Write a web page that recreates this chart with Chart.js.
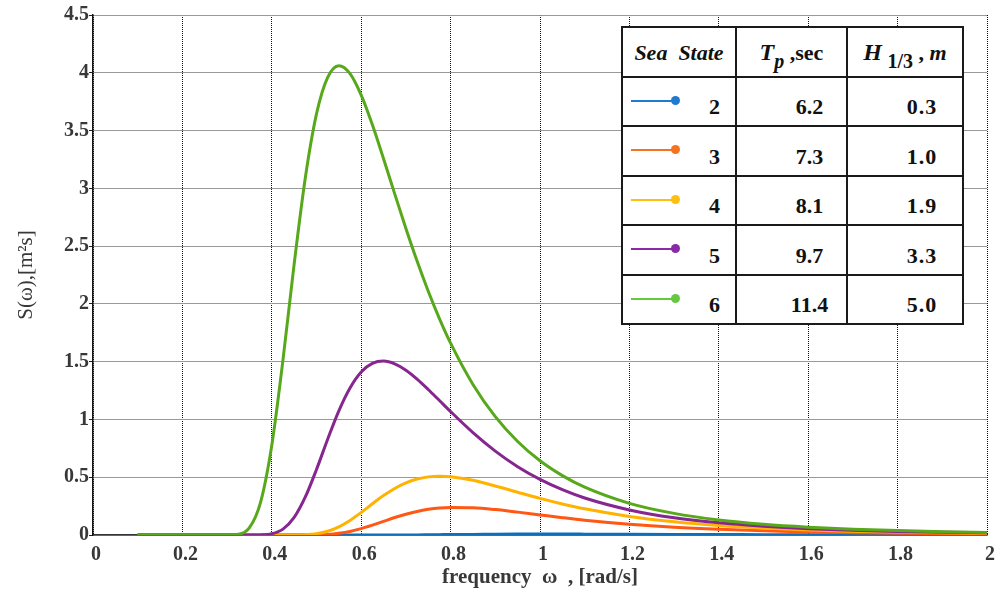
<!DOCTYPE html>
<html>
<head>
<meta charset="utf-8">
<script src="https://cdn.jsdelivr.net/npm/chart.js@4.4.1/dist/chart.umd.min.js"></script>
<style>
  html, body { margin: 0; padding: 0; background: #fff; }
  #wrap { position: relative; width: 1000px; height: 601px; }
  #states {
    position: absolute; left: 621px; top: 26px;
    width: 341px;
    border-collapse: collapse; table-layout: fixed; background: #fff;
    font-family: "Liberation Serif", "Times New Roman", serif;
    font-weight: bold; font-size: 22px; color: #111;
  }
  #states td, #states th { border: 2px solid #1a1a1a; padding: 0; position: relative; }
  #states th { font-weight: bold; height: 45.5px; padding-top: 2px; }
  #states td { height: 35.5px; padding-top: 12px; }
  #states .st { text-align: right; padding-right: 15px; }
  #states .tp { text-align: center; padding-left: 36px; }
  #states .hs { text-align: center; padding-left: 34px; letter-spacing: 1px; }
  #states .key { position: absolute; left: 8px; top: 22px; width: 44px; height: 2px; }
  #states .dot { position: absolute; left: 48px; top: 18px; width: 9px; height: 9px; border-radius: 50%; }
  #states sub { font-size: 20px; vertical-align: -8px; line-height: 0; }
</style>
</head>
<body>
<div id="wrap">
  <canvas id="spectrum" width="1000" height="601"></canvas>
  <table id="states">
    <colgroup><col style="width:114px"><col style="width:111px"><col style="width:116px"></colgroup>
    <thead>
      <tr>
        <th><i style="white-space:pre">Sea  State</i></th>
        <th><i style="font-size:24px">T</i><sub><i>p</i></sub> ,sec</th>
        <th><i style="font-size:24px">H</i> <sub>1/3</sub> , <i>m</i></th>
      </tr>
    </thead>
    <tbody id="state-rows"></tbody>
  </table>
</div>
<script>
// frequency grid, rad/s
const omega = [0.1, 0.15, 0.2, 0.25, 0.3, 0.325, 0.35, 0.375, 0.4, 0.425,
  0.45, 0.475, 0.5, 0.525, 0.55, 0.575, 0.6, 0.625, 0.65, 0.675,
  0.7, 0.725, 0.75, 0.775, 0.8, 0.85, 0.9, 0.95, 1.0, 1.05,
  1.1, 1.2, 1.3, 1.4, 1.5, 1.6, 1.7, 1.8, 1.9, 2.0];

// spectral density S(w), m^2 s, one array per sea state
const ss2 = [0, 0, 0, 0, 0, 0, 0, 0, 0, 0,
  0, 0, 0, 0, 0, 0, 0, 0, 0, 0.0003,
  0.0007, 0.001, 0.002, 0.003, 0.004, 0.005, 0.007, 0.008, 0.008, 0.008,
  0.0075, 0.006, 0.005, 0.004, 0.003, 0.002, 0.002, 0.001, 0.001, 0.001];
const ss3 = [0, 0, 0, 0, 0, 0, 0, 0, 0, 0,
  0, 0.0002, 0.001, 0.005, 0.015, 0.031, 0.055, 0.085, 0.118, 0.151,
  0.180, 0.204, 0.222, 0.234, 0.239, 0.236, 0.220, 0.198, 0.174, 0.150,
  0.128, 0.093, 0.067, 0.049, 0.036, 0.026, 0.020, 0.015, 0.012, 0.009];
const ss4 = [0, 0, 0, 0, 0, 0, 0, 0, 0, 0,
  0.0004, 0.003, 0.011, 0.032, 0.071, 0.126, 0.195, 0.270, 0.341, 0.403,
  0.451, 0.484, 0.503, 0.509, 0.504, 0.473, 0.424, 0.370, 0.317, 0.269,
  0.227, 0.161, 0.115, 0.083, 0.060, 0.044, 0.033, 0.025, 0.020, 0.015];
const ss5 = [0, 0, 0, 0, 0, 0, 0, 0.001, 0.011, 0.051,
  0.152, 0.329, 0.567, 0.829, 1.075, 1.273, 1.411, 1.485, 1.505, 1.481,
  1.426, 1.349, 1.259, 1.164, 1.068, 0.886, 0.726, 0.591, 0.481, 0.392,
  0.320, 0.217, 0.149, 0.105, 0.076, 0.055, 0.041, 0.031, 0.024, 0.019];
const ss6 = [0, 0, 0, 0, 0.0002, 0.006, 0.063, 0.285, 0.777, 1.515,
  2.344, 3.092, 3.644, 3.960, 4.061, 3.993, 3.807, 3.550, 3.256, 2.952,
  2.653, 2.371, 2.110, 1.873, 1.660, 1.303, 1.024, 0.809, 0.642, 0.514,
  0.414, 0.274, 0.187, 0.130, 0.093, 0.068, 0.050, 0.038, 0.029, 0.022];

const seaStates = ['2', '3', '4', '5', '6'];
const peakPeriods = ['6.2', '7.3', '8.1', '9.7', '11.4'];
const sigHeights = ['0.3', '1.0', '1.9', '3.3', '5.0'];

const xTicks = [0, 0.2, 0.4, 0.6, 0.8, 1, 1.2, 1.4, 1.6, 1.8, 2];
const yTicks = [0, 0.5, 1, 1.5, 2, 2.5, 3, 3.5, 4, 4.5];

const spectra = [ss2, ss3, ss4, ss5, ss6];
const lineColors = ['#0b6fbe', '#ff5714', '#ffb300', '#86268f', '#57a81b'];
const keyColors = ['#1f7ad0', '#f5731f', '#ffbf10', '#8a2aa6', '#66c840'];

// table with sea state parameters and line keys
const rows = document.getElementById('state-rows');
seaStates.forEach((s, i) => {
  const tr = document.createElement('tr');
  tr.innerHTML =
    `<td class="st"><span class="key" style="background:${keyColors[i]}"></span>` +
    `<span class="dot" style="background:${keyColors[i]}"></span>${s}</td>` +
    `<td class="tp">${peakPeriods[i]}</td><td class="hs">${sigHeights[i]}</td>`;
  rows.appendChild(tr);
});

Chart.defaults.font.family = 'Liberation Serif';
Chart.defaults.font.size = 20;
Chart.defaults.font.weight = 'bold';
Chart.defaults.color = '#383838';

new Chart(document.getElementById('spectrum').getContext('2d'), {
  type: 'line',
  data: {
    datasets: spectra.map((ys, i) => ({
      label: 'Sea State ' + seaStates[i],
      data: omega.map((w, k) => ({ x: w, y: ys[k] })),
      borderColor: lineColors[i],
      borderWidth: 3,
      pointRadius: 0,
      cubicInterpolationMode: 'monotone',
      order: spectra.length - 1 - i, // higher sea states drawn on top
    })),
  },
  options: {
    responsive: false,
    animation: false,
    devicePixelRatio: 1,
    layout: { padding: { top: 15, right: 10, left: 0, bottom: 0 } },
    plugins: { legend: { display: false }, tooltip: { enabled: false } },
    scales: {
      x: {
        type: 'linear',
        min: 0, max: 2,
        afterFit: (s) => { s.height = 66; },
        afterBuildTicks: (s) => { s.ticks = xTicks.map(v => ({ value: v })); },
        grid: { color: '#111', lineWidth: 1, drawTicks: false },
        border: { display: true, color: '#333', width: 1.5, dash: [1, 1] },
        ticks: {
          font: { family: 'Liberation Serif', size: 20, weight: 'bold' },
          padding: 8, labelOffset: 3, maxRotation: 0, callback: v => String(v),
        },
        title: {
          display: true,
          text: 'frequency  ω  , [rad/s]',
          font: { family: 'Liberation Serif', size: 21, weight: 'bold' },
          padding: { top: 0, bottom: 11 },
        },
      },
      y: {
        type: 'linear',
        min: 0, max: 4.5,
        afterFit: (s) => { s.width = 93; },
        afterBuildTicks: (s) => { s.ticks = yTicks.map(v => ({ value: v })); },
        grid: { color: '#999', lineWidth: 1, tickLength: 4, tickColor: '#222' },
        border: { display: true, color: '#111', width: 1.5 },
        ticks: {
          font: { family: 'Liberation Serif', size: 20, weight: 'bold' },
          padding: 0, callback: v => String(v),
        },
        title: {
          display: true,
          text: 'S(ω),[m²s]',
          font: { family: 'Liberation Serif', size: 21, weight: 'normal' },
          padding: { top: 14, bottom: 0 },
        },
      },
    },
  },
});
</script>
</body>
</html>
